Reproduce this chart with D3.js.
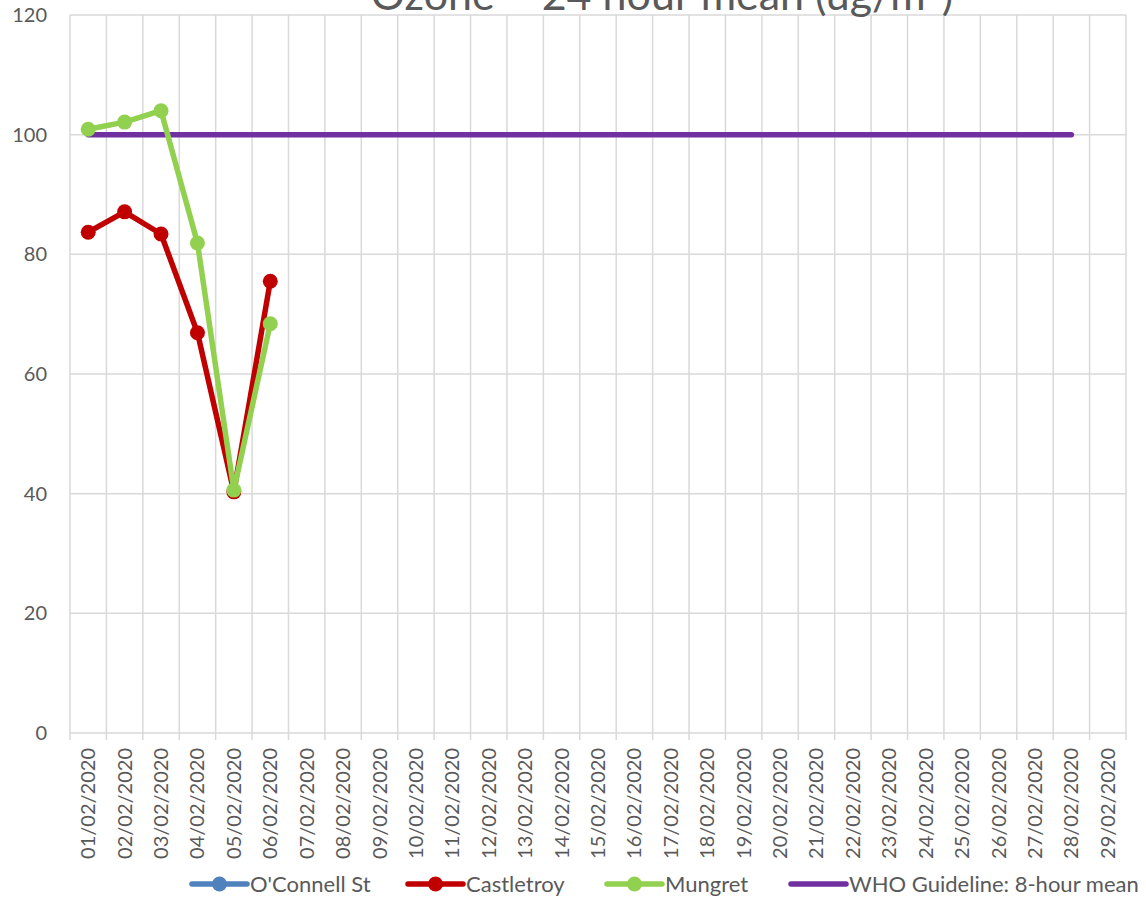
<!DOCTYPE html>
<html>
<head>
<meta charset="utf-8">
<script src="https://cdn.jsdelivr.net/npm/d3@7"></script>
<style>
  body { margin: 0; background: #fff; }
  svg text { font-family: Lato, "Open Sans", sans-serif; fill: #595959; }
</style>
</head>
<body>
<div id="chart"></div>
<script>
// Data
const dates = ["01/02/2020","02/02/2020","03/02/2020","04/02/2020","05/02/2020","06/02/2020","07/02/2020",
  "08/02/2020","09/02/2020","10/02/2020","11/02/2020","12/02/2020","13/02/2020","14/02/2020","15/02/2020",
  "16/02/2020","17/02/2020","18/02/2020","19/02/2020","20/02/2020","21/02/2020","22/02/2020","23/02/2020",
  "24/02/2020","25/02/2020","26/02/2020","27/02/2020","28/02/2020","29/02/2020"];
const oconnell = [];
const castletroy = [83.7, 87.1, 83.4, 66.9, 40.3, 75.5];
const mungret = [100.9, 102.1, 104.0, 81.9, 40.6, 68.4];
const whoGuideline = [100,100,100,100,100,100,100,100,100,100,100,100,100,100,100,100,100,100,100,100,100,100,100,100,100,100,100,100];
const yTicks = [0, 20, 40, 60, 80, 100, 120];

(function () {
    const width = 1146, height = 902;
    const left = 70, right = 1126, top = 15, bottom = 733;

    const svg = d3.select("#chart").append("svg")
        .attr("width", width)
        .attr("height", height);

    const x = d3.scaleBand().domain(dates).range([left, right]).padding(0);
    const y = d3.scaleLinear().domain([0, 120]).range([bottom, top]);
    const cx = d => x(d) + x.bandwidth() / 2;

    // horizontal gridlines
    svg.append("g").selectAll("line")
        .data(yTicks)
        .enter().append("line")
        .attr("x1", left).attr("x2", right)
        .attr("y1", d => y(d)).attr("y2", d => y(d))
        .attr("stroke", "#d9d9d9").attr("stroke-width", 1.5);

    // vertical gridlines (category boundaries), with tick marks below axis
    const bounds = dates.map(d => x(d)).concat([right]);
    svg.append("g").selectAll("line")
        .data(bounds)
        .enter().append("line")
        .attr("x1", d => d).attr("x2", d => d)
        .attr("y1", top).attr("y2", bottom + 7)
        .attr("stroke", "#d9d9d9").attr("stroke-width", 1.5);

    // y labels
    svg.append("g").selectAll("text")
        .data(yTicks)
        .enter().append("text")
        .attr("x", 47).attr("y", d => y(d) + 7)
        .attr("text-anchor", "end")
        .style("font-size", "20px")
        .text(d => d);

    // x labels (rotated)
    svg.append("g").selectAll("text")
        .data(dates)
        .enter().append("text")
        .attr("transform", d => `translate(${cx(d) + 7},748) rotate(-90)`)
        .attr("text-anchor", "end")
        .style("font-size", "20px")
        .text(d => d);

    // title (cut at top edge, as in the reference)
    svg.append("text")
        .attr("x", 662).attr("y", 10)
        .attr("text-anchor", "middle")
        .style("font-size", "43px")
        .html("Ozone – 24 hour mean (ug/m<tspan dy='-15' style='font-size:28px'>3</tspan><tspan dy='15'>)</tspan>");

    const line = d3.line().x((v, i) => cx(dates[i])).y(v => y(v));

    // WHO guideline
    svg.append("path")
        .datum(whoGuideline)
        .attr("d", line)
        .attr("fill", "none")
        .attr("stroke", "#7030a0")
        .attr("stroke-width", 5.5)
        .attr("stroke-linecap", "round");

    const series = [
        { name: "O'Connell St", values: oconnell, color: "#4f81bd" },
        { name: "Castletroy", values: castletroy, color: "#c00000" },
        { name: "Mungret", values: mungret, color: "#92d050" }
    ];

    series.forEach(s => {
        if (!s.values.length) return;
        svg.append("path")
            .datum(s.values)
            .attr("d", line)
            .attr("fill", "none")
            .attr("stroke", s.color)
            .attr("stroke-width", 5.5)
            .attr("stroke-linejoin", "round");
        svg.append("g").selectAll("circle")
            .data(s.values)
            .enter().append("circle")
            .attr("cx", (v, i) => cx(dates[i]))
            .attr("cy", v => y(v))
            .attr("r", 7.5)
            .attr("fill", s.color);
    });

    // legend
    const legendItems = [
        { name: "O'Connell St", color: "#4f81bd", marker: true, x: 192 },
        { name: "Castletroy", color: "#c00000", marker: true, x: 408 },
        { name: "Mungret", color: "#92d050", marker: true, x: 607 },
        { name: "WHO Guideline: 8-hour mean", color: "#7030a0", marker: false, x: 791 }
    ];
    const ly = 884;
    const lg = svg.append("g").selectAll("g")
        .data(legendItems)
        .enter().append("g");
    lg.append("line")
        .attr("x1", d => d.x).attr("x2", d => d.x + 55)
        .attr("y1", ly).attr("y2", ly)
        .attr("stroke", d => d.color)
        .attr("stroke-width", 5.5)
        .attr("stroke-linecap", "round");
    lg.filter(d => d.marker).append("circle")
        .attr("cx", d => d.x + 27.5).attr("cy", ly)
        .attr("r", 7.5)
        .attr("fill", d => d.color);
    lg.append("text")
        .attr("x", d => d.x + 58).attr("y", ly + 8)
        .style("font-size", "22px")
        .text(d => d.name);
})();
</script>
</body>
</html>
